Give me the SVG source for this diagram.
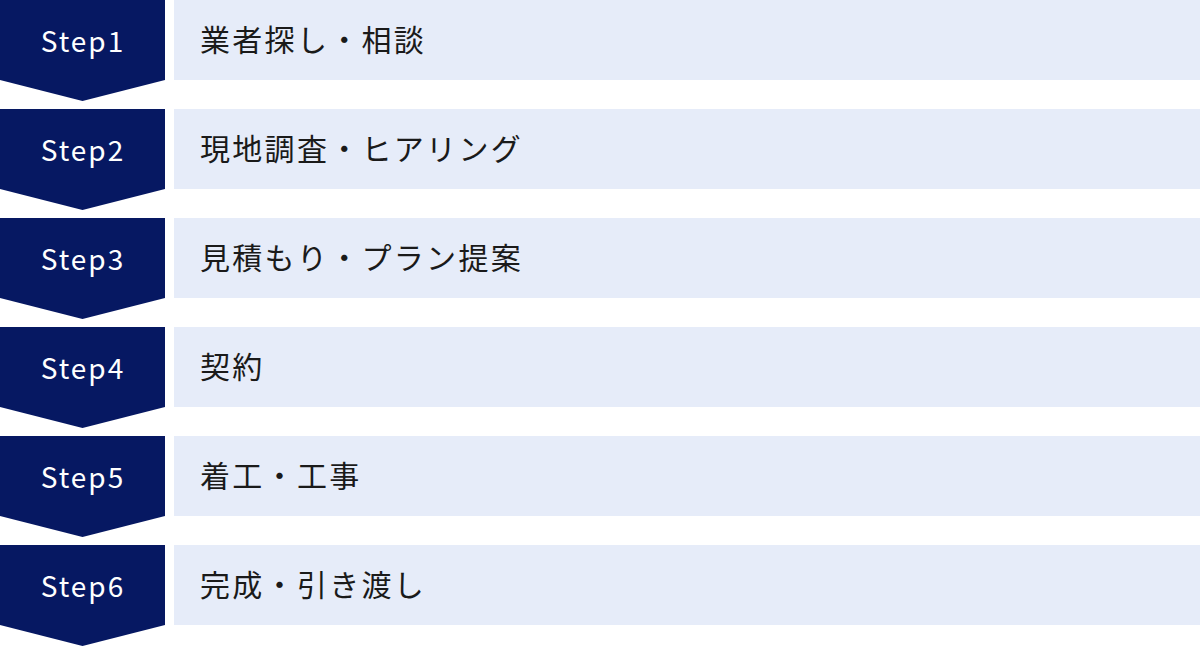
<svg xmlns="http://www.w3.org/2000/svg" width="1200" height="647" viewBox="0 0 1200 647">
<defs>
<style>
.badge{fill:#061862}
.bar{fill:#E6ECF9}
.step{font-family:"Noto Sans CJK JP","Noto Sans",sans-serif;font-size:28px;fill:#ffffff;text-anchor:middle;letter-spacing:2px}
.label{font-family:"Noto Sans CJK JP",sans-serif;font-size:30px;fill:#1a1a1a;letter-spacing:2.3px}
</style>
<path id="chev" d="M0 0H165V80L82.5 101L0 80Z"/>
</defs>
<rect width="1200" height="647" fill="#ffffff"/>
<g id="connectors"></g>
<g id="step1" transform="translate(0,0)">
<use href="#chev" class="badge"/>
<rect class="bar" x="174" y="0" width="1026" height="80"/>
<text class="step" x="83" y="52">Step1</text>
<text class="label" x="200" y="51">業者探し・相談</text>
</g>
<g id="step2" transform="translate(0,109)">
<use href="#chev" class="badge"/>
<rect class="bar" x="174" y="0" width="1026" height="80"/>
<text class="step" x="83" y="52">Step2</text>
<text class="label" x="200" y="51">現地調査・ヒアリング</text>
</g>
<g id="step3" transform="translate(0,218)">
<use href="#chev" class="badge"/>
<rect class="bar" x="174" y="0" width="1026" height="80"/>
<text class="step" x="83" y="52">Step3</text>
<text class="label" x="200" y="51">見積もり・プラン提案</text>
</g>
<g id="step4" transform="translate(0,327)">
<use href="#chev" class="badge"/>
<rect class="bar" x="174" y="0" width="1026" height="80"/>
<text class="step" x="83" y="52">Step4</text>
<text class="label" x="200" y="51">契約</text>
</g>
<g id="step5" transform="translate(0,436)">
<use href="#chev" class="badge"/>
<rect class="bar" x="174" y="0" width="1026" height="80"/>
<text class="step" x="83" y="52">Step5</text>
<text class="label" x="200" y="51">着工・工事</text>
</g>
<g id="step6" transform="translate(0,545)">
<use href="#chev" class="badge"/>
<rect class="bar" x="174" y="0" width="1026" height="80"/>
<text class="step" x="83" y="52">Step6</text>
<text class="label" x="200" y="51">完成・引き渡し</text>
</g>
</svg>
